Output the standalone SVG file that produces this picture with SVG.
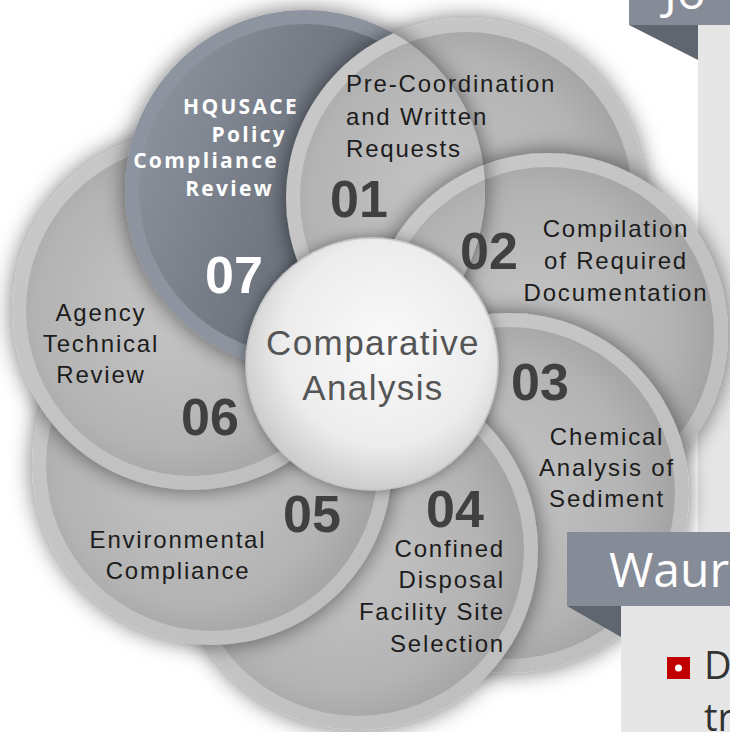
<svg xmlns="http://www.w3.org/2000/svg" xmlns:xlink="http://www.w3.org/1999/xlink" width="730" height="732" viewBox="0 0 730 732">
<style>
.rim{fill:url(#gRim)}
.inn{fill:url(#gIn)}
.rim7{fill:#8d949f}
.inn7{fill:url(#g7In)}
.lbl{font-family:"Liberation Sans",Arial,sans-serif;font-size:24px;letter-spacing:1.8px;fill:#1c1c1c}
.num{font-family:"Liberation Sans",Arial,sans-serif;font-weight:bold;font-size:52px;fill:#404040}
.w7{font-family:"Open Sans","Liberation Sans",sans-serif;font-weight:bold;font-size:21px;letter-spacing:2.3px;fill:#ffffff;text-anchor:end}
.ctr{font-family:"Liberation Sans",Arial,sans-serif;font-size:35px;letter-spacing:1.4px;fill:#555555;text-anchor:middle}
.ban{fill:#868c97}
.tri{fill:#5f6670}
.pan{fill:#e6e6e6}
.slide{font-family:"Open Sans","Liberation Sans",sans-serif}
</style>
<defs>
<radialGradient id="gIn" cx="0.45" cy="0.5" r="0.6">
<stop offset="0" stop-color="#c6c6c6"/>
<stop offset="0.7" stop-color="#b3b3b3"/>
<stop offset="1" stop-color="#9e9e9e"/>
</radialGradient>
<linearGradient id="gRim" x1="0" y1="0" x2="1" y2="1">
<stop offset="0" stop-color="#c9c9c9"/>
<stop offset="1" stop-color="#bdbdbd"/>
</linearGradient>
<linearGradient id="g7In" x1="0" y1="0.3" x2="1" y2="0.7">
<stop offset="0" stop-color="#8b929d"/>
<stop offset="1" stop-color="#4f565f"/>
</linearGradient>
<radialGradient id="gC" cx="0.55" cy="0.42" r="0.58">
<stop offset="0" stop-color="#fafafa"/>
<stop offset="0.7" stop-color="#ececec"/>
<stop offset="1" stop-color="#cdcdcd"/>
</radialGradient>
<filter id="sh" x="-25%" y="-25%" width="150%" height="150%">
<feDropShadow dx="0" dy="0" stdDeviation="11" flood-color="#000" flood-opacity="0.55"/>
</filter>
<filter id="shC" x="-25%" y="-25%" width="150%" height="150%">
<feDropShadow dx="0" dy="0" stdDeviation="7" flood-color="#000" flood-opacity="0.4"/>
</filter>
<g id="s01"><circle cx="466" cy="198" r="180" class="rim"/><circle cx="466" cy="198" r="166" class="inn"/></g>
<g id="s02"><circle cx="548" cy="333" r="180" class="rim"/><circle cx="548" cy="333" r="166" class="inn"/></g>
<clipPath id="c0607"><circle cx="305" cy="190" r="180"/><circle cx="192" cy="310" r="180"/></clipPath>
<clipPath id="c07"><circle cx="305" cy="190" r="180"/></clipPath>
</defs>

<g id="slide-back">
<rect x="629" y="-10" width="110" height="35" class="ban"/>
<text x="664" y="9" class="slide" font-size="48" fill="#ffffff">Jo</text>
<polygon points="629,25 698,25 698,60" class="tri"/>
<rect x="698" y="25" width="40" height="720" class="pan"/>
</g>

<g id="node-01-base" filter="url(#sh)"><use href="#s01"/></g>

<g id="node-02">
<g filter="url(#sh)"><use href="#s02"/></g>
<text class="lbl" text-anchor="middle"><tspan x="616" y="237">Compilation</tspan><tspan x="616" y="269">of Required</tspan><tspan x="616" y="301">Documentation</tspan></text>
</g>

<g id="node-03">
<g filter="url(#sh)"><circle cx="509" cy="493" r="180" class="rim"/><circle cx="509" cy="493" r="166" class="inn"/></g>
<text class="num" x="511" y="400">03</text>
<text class="lbl" text-anchor="middle"><tspan x="607" y="445">Chemical</tspan><tspan x="607" y="476">Analysis of</tspan><tspan x="607" y="507">Sediment</tspan></text>
</g>

<g id="node-04">
<g filter="url(#sh)"><circle cx="358" cy="550" r="180" class="rim"/><circle cx="358" cy="550" r="166" class="inn"/></g>
<text class="num" x="426" y="527">04</text>
<text class="lbl" text-anchor="end"><tspan x="505" y="557">Confined</tspan><tspan x="505" y="588">Disposal</tspan><tspan x="505" y="620">Facility Site</tspan><tspan x="505" y="652">Selection</tspan></text>
</g>

<g id="node-05">
<g filter="url(#sh)"><circle cx="212" cy="465" r="180" class="rim"/><circle cx="212" cy="465" r="166" class="inn"/></g>
<text class="num" x="283" y="532">05</text>
<text class="lbl" text-anchor="middle"><tspan x="178" y="548">Environmental</tspan><tspan x="178" y="579">Compliance</tspan></text>
</g>

<g id="node-06">
<g filter="url(#sh)"><circle cx="192" cy="310" r="180" class="rim"/><circle cx="192" cy="310" r="166" class="inn"/></g>
<text class="num" x="181" y="435">06</text>
<text class="lbl" text-anchor="middle"><tspan x="101" y="321">Agency</tspan><tspan x="101" y="352">Technical</tspan><tspan x="101" y="383">Review</tspan></text>
</g>

<g id="node-07">
<g filter="url(#sh)"><circle cx="305" cy="190" r="180" class="rim7"/><circle cx="305" cy="190" r="166" class="inn7"/></g>
<text class="w7"><tspan x="299" y="114">HQUSACE</tspan><tspan x="287" y="142">Policy</tspan><tspan x="279" y="168">Compliance</tspan><tspan x="274" y="196">Review</tspan></text>
<text class="num" x="205" y="293" style="fill:#ffffff">07</text>
</g>

<g id="node-01">
<g clip-path="url(#c0607)"><g filter="url(#sh)"><use href="#s01"/></g></g>
<text class="num" x="330" y="217">01</text>
<text class="lbl"><tspan x="346" y="92">Pre-Coordination</tspan><tspan x="346" y="125">and Written</tspan><tspan x="346" y="157">Requests</tspan></text>
</g>

<g id="node-02-top">
<g clip-path="url(#c07)"><g filter="url(#sh)"><use href="#s02"/></g></g>
<text class="num" x="460" y="269">02</text>
</g>

<g id="node-center">
<circle cx="372" cy="364" r="126" fill="url(#gC)" stroke="#c6c6c6" stroke-width="1.5" filter="url(#shC)"/>
<text class="ctr"><tspan x="373" y="355">Comparative</tspan><tspan x="373" y="400">Analysis</tspan></text>
</g>

<g id="connectors"/>

<g id="slide-front">
<rect x="567" y="532" width="170" height="74" class="ban"/>
<text x="609" y="587" class="slide" font-size="48" fill="#ffffff">Waur</text>
<polygon points="567,606 621,606 621,637" class="tri"/>
<rect x="621" y="606" width="115" height="130" class="pan"/>
<rect x="667" y="657" width="23" height="22" fill="#c00000"/>
<circle cx="678.5" cy="668" r="3.5" fill="#ffffff"/>
<text x="704" y="679" class="slide" font-size="38" fill="#333333">D</text>
<text x="704" y="731" class="slide" font-size="38" fill="#333333">tr</text>
</g>
</svg>
